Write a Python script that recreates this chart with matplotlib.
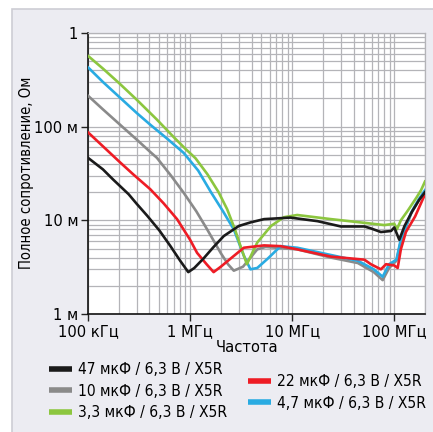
import matplotlib
matplotlib.use("Agg")
import matplotlib.pyplot as plt
from matplotlib.patches import Rectangle
from matplotlib.ticker import FixedLocator, LogLocator, NullFormatter

plt.rcParams['font.family'] = ['DejaVu Sans']
plt.rcParams['font.stretch'] = 'condensed'

# ---- data (frequency in Hz, impedance in Ohm) ----
f_47 = [1.0e5, 1.4e5, 1.76e5, 2.5e5, 3.0e5, 3.8e5, 5.0e5, 6.4e5, 8.0e5, 9.6e5, 1.1e6, 1.35e6,
        1.7e6, 2.14e6, 3.0e6, 3.9e6, 5.3e6, 6.2e6, 9.6e6, 1.77e7, 3.0e7, 5.1e7, 5.9e7, 7.4e7,
        9.3e7, 1.0e8, 1.12e8, 1.26e8, 1.5e8, 1.75e8, 2.0e8]
z_47 = [0.0465, 0.035, 0.0273, 0.019, 0.0150, 0.0112, 0.0078, 0.00533, 0.0037, 0.0028, 0.0031, 0.0039,
        0.0052, 0.0068, 0.0087, 0.0095, 0.0103, 0.0104, 0.0107, 0.0098, 0.0086, 0.0086, 0.0082, 0.0075,
        0.0077, 0.0084, 0.0062, 0.0087, 0.0125, 0.0165, 0.020]

f_22 = [1.0e5, 1.54e5, 2.06e5, 2.77e5, 4.07e5, 5.5e5, 7.45e5, 1.0e6, 1.17e6, 1.45e6, 1.7e6, 2.0e6,
        2.49e6, 3.36e6, 5.3e6, 7.7e6, 1.12e7, 2.4e7, 5.1e7, 5.9e7, 7.4e7, 8.3e7, 1.0e8, 1.08e8,
        1.16e8, 1.3e8, 1.6e8, 2.0e8]
z_22 = [0.087, 0.056, 0.0416, 0.031, 0.0215, 0.0152, 0.0103, 0.0062, 0.0045, 0.0034, 0.0028, 0.0032,
        0.0039, 0.0051, 0.0054, 0.0053, 0.0049, 0.0041, 0.0038, 0.0034, 0.0030, 0.0034, 0.0033, 0.0031,
        0.0049, 0.0075, 0.0110, 0.019]

f_10 = [1.0e5, 1.4e5, 2.0e5, 3.0e5, 4.07e5, 4.73e5, 6.5e5, 8.65e5, 1.15e6, 1.47e6, 1.99e6, 2.35e6,
        2.68e6, 3.3e6, 4.55e6, 5.5e6, 1.12e7, 2.4e7, 4.4e7, 6.3e7, 7.7e7, 8.9e7, 1.05e8, 1.16e8,
        1.47e8, 1.75e8, 2.0e8]
z_10 = [0.214, 0.153, 0.108, 0.0728, 0.0537, 0.0465, 0.0300, 0.0197, 0.0125, 0.0080, 0.0045, 0.0034,
        0.0029, 0.0032, 0.0049, 0.0052, 0.0049, 0.0040, 0.0035, 0.0028, 0.0023, 0.0031, 0.0037, 0.0060,
        0.0120, 0.0165, 0.0205]

f_4n7 = [1.0e5, 1.4e5, 2.0e5, 3.0e5, 4.07e5, 6.0e5, 8.65e5, 1.2e6, 1.6e6, 2.1e6, 2.68e6, 3.36e6,
         3.9e6, 4.55e6, 5.76e6, 7.7e6, 1.12e7, 2.2e7, 4.4e7, 6.3e7, 7.7e7, 8.9e7, 1.05e8, 1.16e8,
         1.47e8, 1.75e8, 2.0e8]
z_4n7 = [0.43, 0.30, 0.21, 0.140, 0.105, 0.074, 0.0525, 0.034, 0.0200, 0.0125, 0.0080, 0.0042,
         0.0030, 0.0031, 0.0039, 0.0053, 0.0051, 0.00435, 0.0037, 0.0030, 0.0025, 0.0034, 0.0038, 0.0063,
         0.0122, 0.0170, 0.021]

f_3n3 = [1.0e5, 1.4e5, 2.0e5, 3.0e5, 4.73e5, 6.86e5, 9.0e5, 1.13e6, 1.48e6, 1.9e6, 2.31e6, 2.75e6,
         3.12e6, 3.6e6, 4.55e6, 6.2e6, 8.3e6, 1.12e7, 2.4e7, 5.1e7, 8.0e7, 1.0e8, 1.06e8, 1.16e8,
         1.35e8, 1.65e8, 1.83e8, 2.0e8]
z_3n3 = [0.57, 0.417, 0.294, 0.194, 0.119, 0.078, 0.058, 0.046, 0.031, 0.020, 0.0131, 0.0080,
         0.0053, 0.0034, 0.0058, 0.0087, 0.0108, 0.0114, 0.0103, 0.0094, 0.0089, 0.0092, 0.0080, 0.0100,
         0.0126, 0.0175, 0.021, 0.026]

series = [
    ("47 мкФ / 6,3 В / X5R", f_47, z_47, "#1a1a1a"),
    ("10 мкФ / 6,3 В / X5R", f_10, z_10, "#8a8a8a"),
    ("3,3 мкФ / 6,3 В / X5R", f_3n3, z_3n3, "#8cc63f"),
    ("22 мкФ / 6,3 В / X5R", f_22, z_22, "#ee1c25"),
    ("4,7 мкФ / 6,3 В / X5R", f_4n7, z_4n7, "#29abe2"),
]
draw_order = [1, 4, 2, 3, 0]

x_ticks = [1e5, 1e6, 1e7, 1e8]
x_labels = ["100 кГц", "1 МГц", "10 МГц", "100 МГц"]
y_ticks = [1e-3, 1e-2, 1e-1, 1]
y_labels = ["1 м", "10 м", "100 м", "1"]

FS = 11.8
FS_LEG = 11.2

W, H = 433, 432
fig = plt.figure(figsize=(W / 100, H / 100), dpi=100, facecolor="white")
fig.add_artist(Rectangle((12 / W, -0.01), 1, 1 - 9 / H + 0.01, transform=fig.transFigure,
                         facecolor="#ececf2", edgecolor="#cdcdd4", linewidth=1.2, zorder=-5))

ax = fig.add_axes([88 / W, 1 - 314 / H, (425 - 88) / W, (314 - 33) / H])
ax.set_zorder(2)
ax.set_facecolor("white")
ax.set_xscale("log")
ax.set_yscale("log")
ax.set_xlim(1e5, 2e8)
ax.set_ylim(1e-3, 1)

lines = {}
for i in draw_order:
    name, f, z, c = series[i]
    lines[i], = ax.plot(f, z, color=c, lw=1.9, label=name, solid_joinstyle="round", zorder=3)

ax.xaxis.set_major_locator(FixedLocator(x_ticks))
ax.set_xticklabels(x_labels)
ax.yaxis.set_major_locator(FixedLocator(y_ticks))
ax.set_yticklabels(y_labels)
ax.xaxis.set_minor_locator(LogLocator(base=10, subs=range(2, 10), numticks=20))
ax.yaxis.set_minor_locator(LogLocator(base=10, subs=range(2, 10), numticks=20))
ax.xaxis.set_minor_formatter(NullFormatter())
ax.yaxis.set_minor_formatter(NullFormatter())
ax.tick_params(which="major", direction="out", length=5, width=1, color="#222222",
               labelsize=FS, pad=2)
ax.tick_params(which="minor", length=0)
ax.grid(True, which="both", color="#b4b4b8", linewidth=0.9, zorder=1)
ax.set_axisbelow(True)
for s in ["top", "right"]:
    ax.spines[s].set_color("#b4b4b8")
    ax.spines[s].set_linewidth(0.9)
for s in ["left", "bottom"]:
    ax.spines[s].set_color("#111111")
    ax.spines[s].set_linewidth(1.2)

ax.set_xlabel("Частота", fontsize=FS)
ax.xaxis.set_label_coords((247 - 88) / (425 - 88), -(347 - 314) / (314 - 33))
ax.xaxis.label.set_va("center")
fig.text(27 / W, 1 - 173 / H, "Полное сопротивление, Ом", rotation=90,
         ha="center", va="center", fontsize=10.6)

left = [lines[0], lines[1], lines[2]]
right = [lines[3], lines[4]]
common = dict(loc="upper left", frameon=False, fontsize=FS_LEG, handlelength=1.5,
              handletextpad=0.35, labelspacing=0.42, borderaxespad=0, borderpad=0)
leg1 = fig.legend(handles=left, labels=[series[i][0] for i in (0, 1, 2)],
                  bbox_to_anchor=(49 / W, 1 - 362 / H), **common)
leg2 = fig.legend(handles=right, labels=[series[i][0] for i in (3, 4)],
                  bbox_to_anchor=(248 / W, 1 - 374 / H), **common)
for lg in (leg1, leg2):
    for ln in lg.get_lines():
        ln.set_linewidth(4)
        ln.set_solid_capstyle("butt")

fig.savefig("out.png", dpi=100, facecolor="white")
